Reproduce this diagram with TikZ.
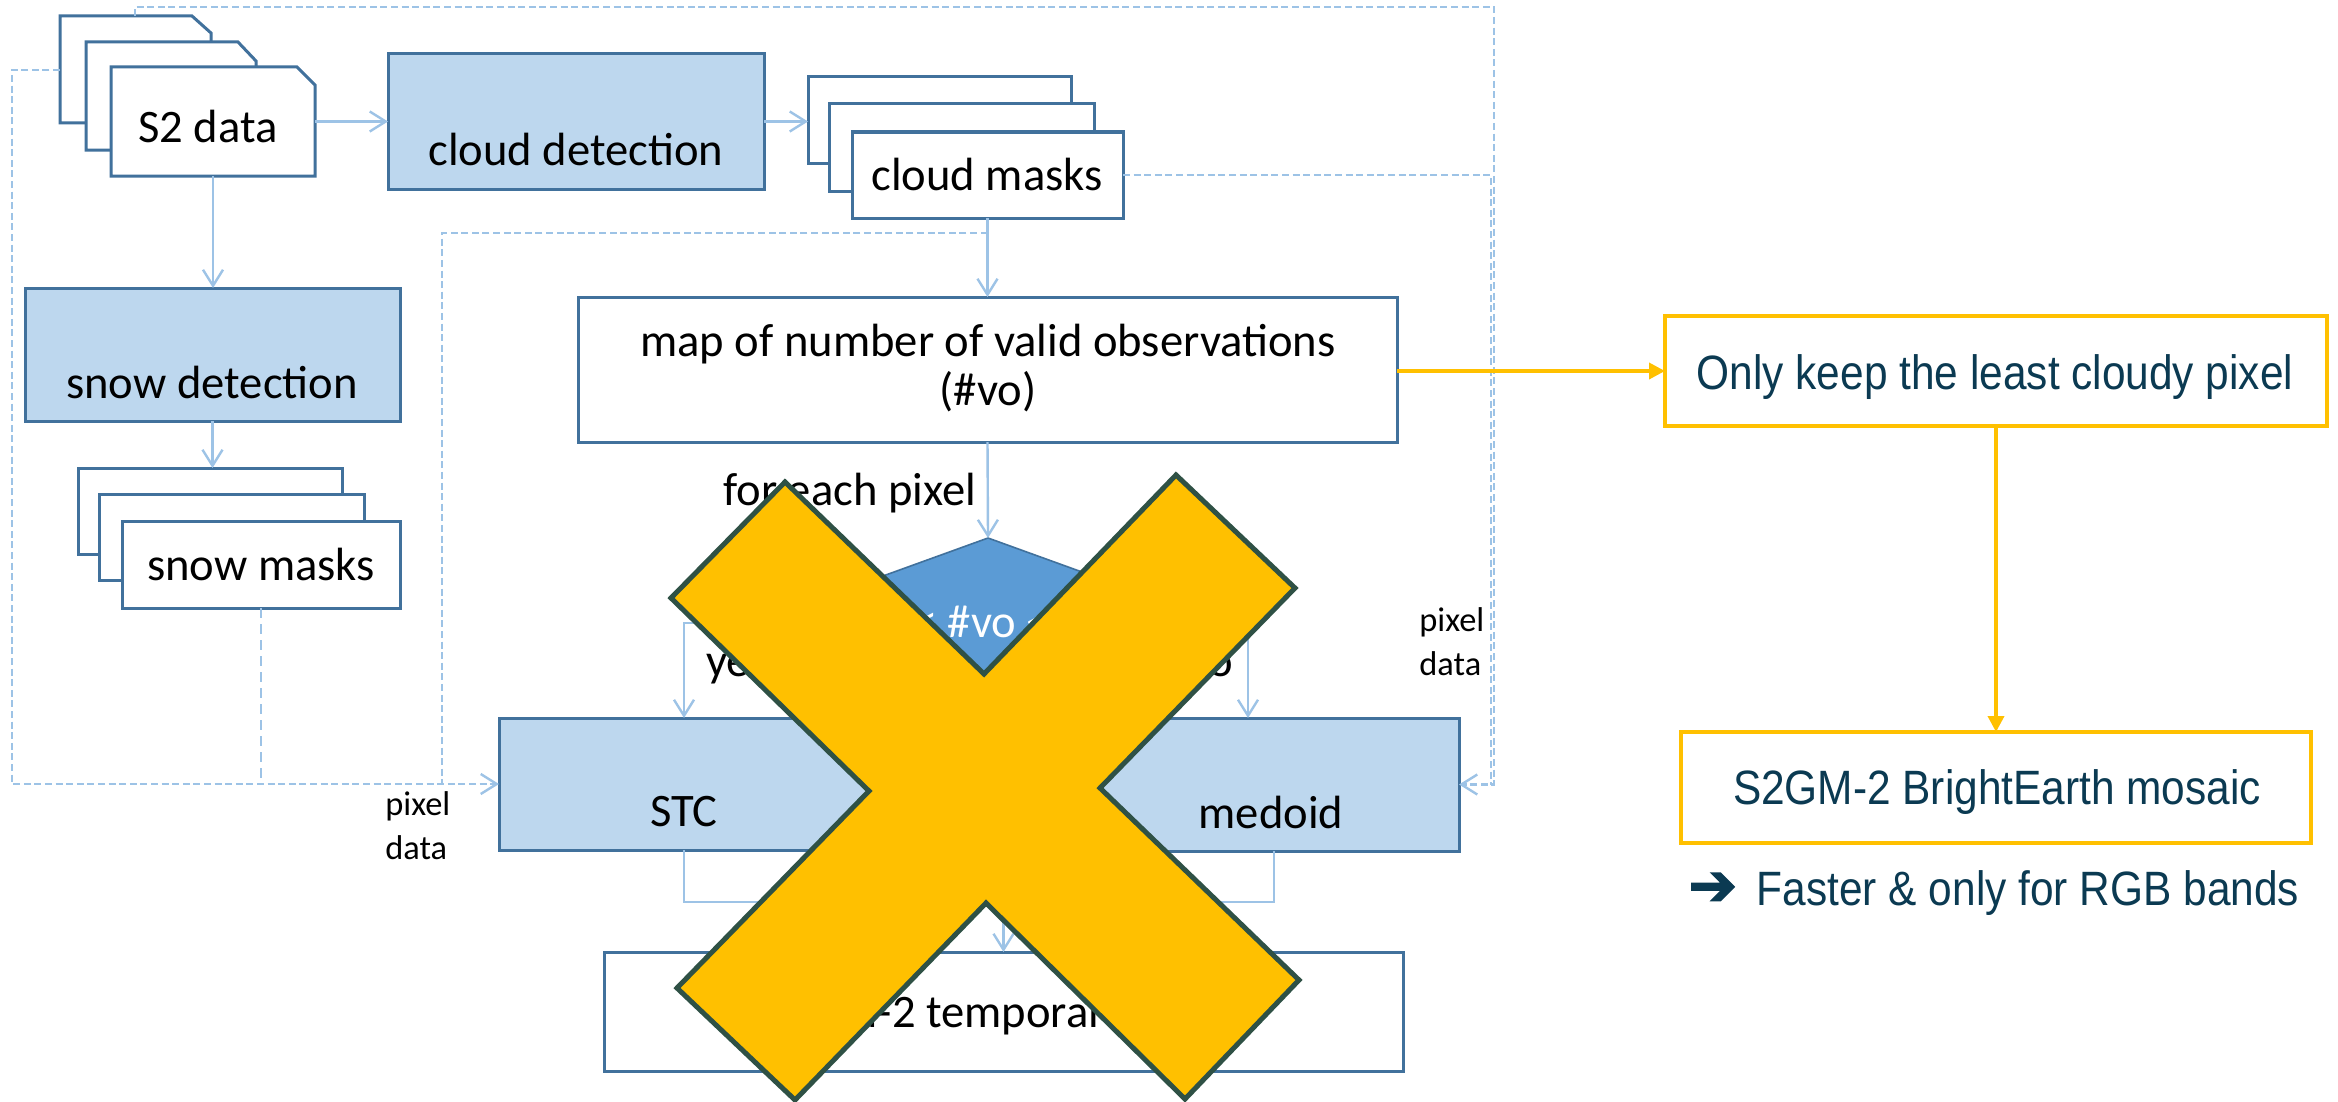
\documentclass[tikz,border=0pt]{standalone}
\usepackage{fontspec}
\setmainfont{Carlito}
\newfontfamily\condfont[FakeStretch=0.88]{Liberation Sans}
\newfontfamily\arrowfont[FakeBold=2.5]{DejaVu Sans}
\usetikzlibrary{arrows.meta,calc}
\definecolor{boxline}{HTML}{41719C}
\definecolor{boxfill}{HTML}{BDD7EE}
\definecolor{connc}{HTML}{9DC3E6}
\definecolor{diafill}{HTML}{5B9BD5}
\definecolor{gold}{HTML}{FFC000}
\definecolor{xline}{HTML}{2F5145}
\definecolor{navy}{HTML}{0B3A52}
\begin{document}
\begin{tikzpicture}[x=0.5pt,y=-0.5pt,
  procbox/.style={draw=boxline,line width=1.5pt,fill=boxfill,inner sep=0pt,outer sep=0pt},
  databox/.style={draw=boxline,line width=1.5pt,fill=white,inner sep=0pt,outer sep=0pt},
  anchorbox/.style={inner sep=0pt,outer sep=0pt},
  lbl/.style={font=\fontsize{23.3}{28}\selectfont,anchor=base,inner sep=0pt},
  smalllbl/.style={font=\fontsize{17.2}{20}\selectfont,anchor=base west,inner sep=0pt},
  link/.style={draw=connc,line width=1.2pt},
  arr/.style={-{Straight Barb[length=8pt,width=10pt]}},
  dotline/.style={draw=connc,line width=1.2pt,dash pattern=on 3.5pt off 1.8pt},
  longdash/.style={draw=connc,line width=1.0pt,dash pattern=on 5pt off 3pt},
  olink/.style={draw=gold,line width=1.8pt,-{Triangle[length=8pt,width=8pt]}},
  obox/.style={draw=gold,line width=2pt,fill=white,inner sep=0pt,outer sep=0pt},
  rtext/.style={font=\condfont\fontsize{24.1}{29}\selectfont,text=navy,anchor=base,inner sep=0pt}
]
\fill[white] (0,0) rectangle (2338,1102);
\useasboundingbox (0,0) rectangle (2338,1102);

% ---------- S2 data stack
\draw[databox] (60,123) -- (60,16) -- (192,16) -- (211,33) -- (211,123) -- cycle;
\draw[databox] (86,150) -- (86,42) -- (238,42) -- (256,61) -- (256,150) -- cycle;
\draw[databox] (111,176) -- (111,67) -- (297,67) -- (315,85) -- (315,176) -- cycle;
\node[anchorbox,minimum width=102pt,minimum height=54.5pt] (s2) at (213,121.5) {};
\node[lbl] (s2t) at (208,142) {S2 data};
\coordinate (s2top) at (135,16);
\coordinate (s2left) at (60,70);

% ---------- cloud detection
\node[procbox,minimum width=188pt,minimum height=67.5pt] (cd) at (576,121.5) {};
\node[lbl] (cdt) at (576,165) {cloud detection};

% ---------- cloud masks
\node[databox,minimum width=131.5pt,minimum height=43pt] (cm1) at (939.5,120) {};
\node[databox,minimum width=132.5pt,minimum height=43.5pt] (cm2) at (961.5,147.5) {};
\node[databox,minimum width=135.5pt,minimum height=43pt] (cm) at (987.5,175) {};
\node[lbl] (cmt) at (987,190) {cloud masks};

% ---------- snow detection
\node[procbox,minimum width=187.5pt,minimum height=66.5pt] (sd) at (212.5,354.5) {};
\node[lbl] (sdt) at (212,398) {snow detection};

% ---------- snow masks
\node[databox,minimum width=132pt,minimum height=43pt] (sm1) at (210,511) {};
\node[databox,minimum width=132.5pt,minimum height=43pt] (sm2) at (231.5,537) {};
\node[databox,minimum width=139pt,minimum height=43.5pt] (sm) at (261,564.5) {};
\node[lbl] (smt) at (261,580) {snow masks};

% ---------- map of valid observations
\node[databox,minimum width=409.5pt,minimum height=72.5pt] (map) at (987.5,369.5) {};
\node[lbl] (mapt1) at (988,356) {map of number of valid observations};
\node[lbl] (mapt2) at (988,405) {(\#vo)};

% ---------- decision
\coordinate (dT) at (988,538);
\coordinate (dL) at (753,623);
\coordinate (dR) at (1223,623);
\coordinate (dB) at (988,708);
\draw[fill=diafill,draw=boxline,line width=0.8pt] (dT) -- (dR) -- (dB) -- (dL) -- cycle;
\node[lbl,text=white] (dia) at (982,637) {0 < \#vo < 4};
\node[lbl,anchor=base west] (fe) at (723,505) {for each pixel};

% ---------- STC / medoid
\node[procbox,minimum width=185pt,minimum height=66pt] (stc) at (684,784) {};
\node[lbl] (stct) at (684,826) {STC};
\node[procbox,minimum width=188pt,minimum height=66.5pt] (med) at (1271,784.5) {};
\node[lbl] (medt) at (1271,828) {medoid};
\node[lbl,anchor=base west] (yes) at (706,676) {yes};
\node[lbl,anchor=base east] (no) at (1233,676) {no};

% ---------- temporal mosaic
\node[databox,minimum width=399.5pt,minimum height=59.5pt] (tmp) at (1003.5,1011.5) {};
\node[lbl] (tmpt) at (1003,1027) {S2GM-2 temporal mosaic};

% ---------- pixel data labels
\node[smalllbl] (pd1a) at (385,815) {pixel};
\node[smalllbl] (pd1b) at (385,859) {data};
\node[smalllbl] (pd2a) at (1419,631) {pixel};
\node[smalllbl] (pd2b) at (1419,675) {data};

% ---------- solid connectors
\draw[link,arr] (s2.east |- cd.west) -- (cd.west);
\draw[link,arr] (cd.east) -- (cd.east -| cm1.west);
\draw[link,arr] (s2.south) -- (s2.south |- sd.north);
\draw[link,arr] (sd.south) -- (sd.south |- sm1.north);
\draw[link,arr] (cm.south) -- (cm.south |- map.north);
\draw[link,arr] (map.south) -- (dT);
\draw[link,arr] (dL) -| (stc.north);
\coordinate (noj) at (1248,623);
\draw[link,arr] (dR) -- (noj) -- (noj |- med.north);
\coordinate (mergeL) at (684,902);
\coordinate (mergeR) at (1274,902);
\draw[link] (stc.south) -- (mergeL) -- (mergeR) -- (mergeR |- med.south);
\draw[link,arr] (tmp.north |- mergeL) -- (tmp.north);

% ---------- dashed connectors
\coordinate (rt1) at (1494,7);
\coordinate (rt2) at (1491,175);
\coordinate (cmmid) at (987.5,233);
\coordinate (jn) at (442,784);
\draw[dotline,arr] (s2top) |- (rt1) |- (med.east);
\draw[dotline] (cm.east) -- (rt2) -- (rt2 |- med.east);
\draw[dotline,arr] (s2left) -- (12,70) |- (stc.west);
\draw[longdash] (sm.south) -- (sm.south |- stc.west);
\draw[dotline] (cmmid) -| (jn);

% ---------- right side
\node[obox,minimum width=331pt,minimum height=55pt] (keep) at (1996,371) {};
\node[rtext] (keept) at (1995,389) {Only keep the least cloudy pixel};
\node[obox,minimum width=315pt,minimum height=55.5pt] (bem) at (1996,787.5) {};
\node[rtext] (bemt) at (1997,804) {S2GM-2 BrightEarth mosaic};
\node[rtext,anchor=base west] (fast) at (1688,905) {{\arrowfont\fontsize{29}{29}\selectfont ➔}\, Faster \& only for RGB bands};
\draw[olink] (map.east |- keep.west) -- (keep.west);
\draw[olink] (keep.south) -- (bem.north);

% ---------- big cross
\draw[fill=gold,draw=xline,line width=2.5pt,line join=miter]
  (785,482) -- (984,674) -- (1176,475) -- (1295,588) -- (1100,788) -- (1299,980)
  -- (1185,1099) -- (986,903) -- (795,1100) -- (677,988) -- (869,791) -- (671,598) -- cycle;
\end{tikzpicture}
\end{document}
